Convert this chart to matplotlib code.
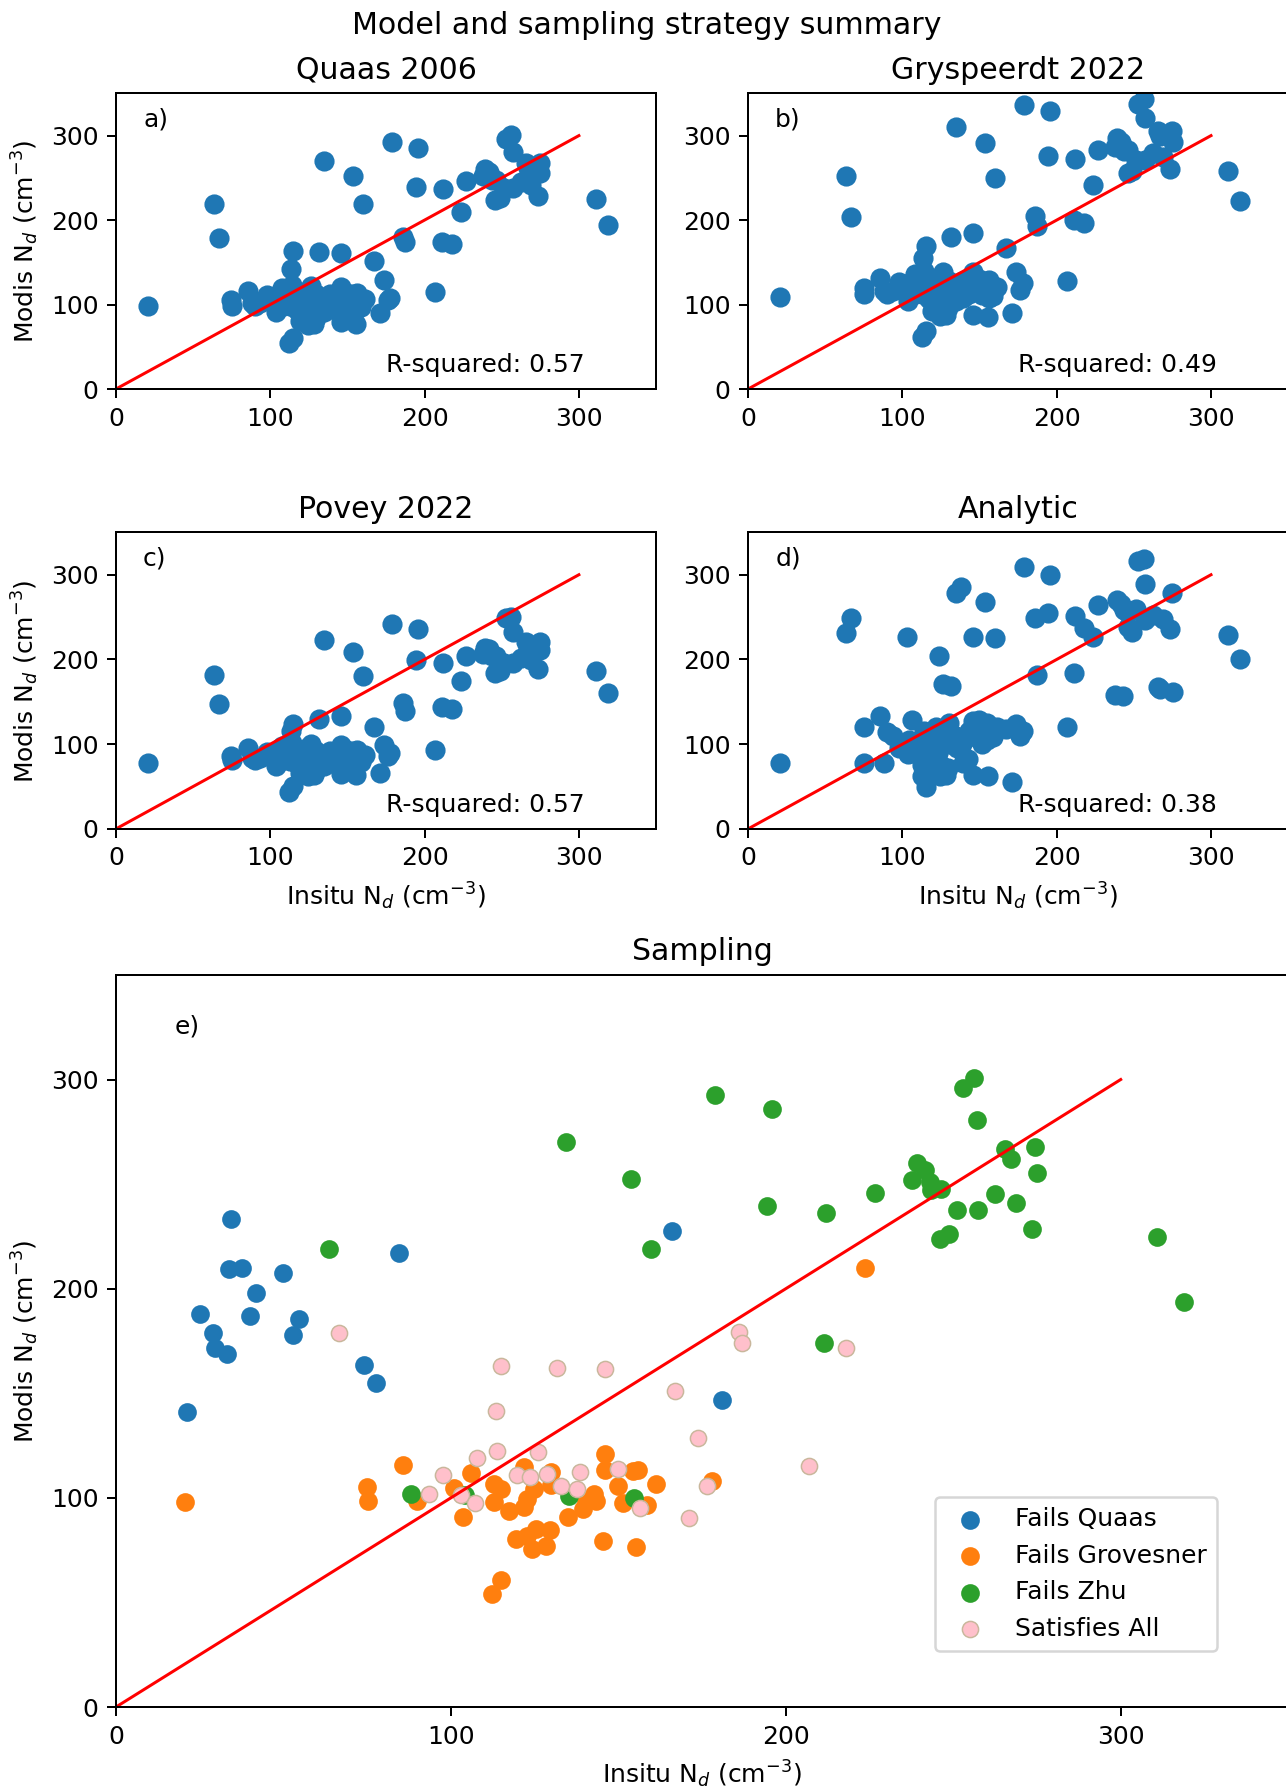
import matplotlib
matplotlib.use("Agg")
import matplotlib.pyplot as plt

# in-situ droplet number (cm^-3) for the campaign points
insitu = [
    # fails Grovesner
    20.7, 74.8, 75.3, 85.7, 90.0, 100.8, 103.7, 105.9, 112.4, 112.8, 113.0,
    115.0, 115.0, 117.4, 119.4, 121.9, 121.9, 122.8, 122.8, 124.2, 124.8,
    125.3, 128.4, 129.7, 129.9, 129.9, 135.0, 139.3, 140.2, 142.7, 143.4,
    145.5, 145.9, 145.9, 149.9, 151.4, 154.5, 155.3, 156.0, 158.7, 161.1,
    177.9, 223.5,
    # fails Zhu
    63.7, 88.2, 104.2, 134.5, 135.4, 153.7, 154.7, 159.8, 178.9, 194.4,
    195.9, 211.5, 211.9, 226.7, 237.8, 239.2, 241.7, 243.1, 243.5, 245.9,
    246.3, 248.7, 251.2, 252.9, 256.3, 257.1, 257.5, 262.6, 265.4, 267.2,
    268.7, 273.6, 274.5, 275.1, 310.9, 318.8,
    # satisfies all
    66.6, 93.6, 97.7, 103.1, 107.1, 107.9, 113.4, 113.9, 115.0, 119.6,
    123.6, 126.1, 128.8, 131.7, 132.8, 137.7, 138.5, 145.9, 149.9, 156.4,
    167.0, 171.2, 173.9, 176.4, 186.0, 187.0, 206.8, 218.0,
]

modis_quaas = [
    98.2, 105.1, 98.4, 115.9, 98.7, 104.6, 90.8, 111.9, 54.1, 106.7, 97.9,
    104.0, 60.8, 93.9, 80.4, 114.6, 95.5, 99.5, 81.7, 75.6, 104.3,
    85.2, 76.9, 84.4, 112.3, 105.9, 90.8, 94.7, 98.7, 101.9, 98.7,
    79.3, 121.0, 113.4, 105.6, 97.6, 112.7, 76.4, 113.5, 96.8, 106.4,
    108.0, 210.0,
    218.8, 101.9, 101.4, 269.9, 100.8, 252.4, 99.8, 219.0, 292.5, 239.4,
    285.8, 174.0, 236.4, 245.9, 251.8, 260.1, 256.9, 251.0, 247.4, 223.9,
    247.8, 226.0, 237.8, 296.0, 300.5, 280.5, 237.8, 245.5, 267.0, 262.2,
    241.1, 228.4, 267.5, 255.5, 224.7, 193.8,
    179.0, 101.9, 111.0, 101.4, 97.6, 119.0, 141.7, 122.6, 162.9, 110.7,
    109.9, 121.8, 111.5, 162.1, 105.6, 104.0, 112.3, 161.6, 113.9, 95.1,
    151.3, 90.3, 128.5, 105.6, 179.5, 174.0, 115.1, 171.7,
]

modis_gryspeerdt = [
    109, 120, 112, 132, 113, 119, 104, 128, 62, 122, 112,
    119, 69, 107, 92, 131, 109, 113, 93, 86, 119,
    97, 88, 96, 128, 121, 104, 108, 113, 116, 113,
    88, 138, 129, 120, 111, 128, 85, 129, 110, 121,
    125, 241,
    252, 116, 116, 310, 115, 291, 114, 250, 336, 276,
    329, 200, 272, 283, 287, 297, 293, 286, 282, 256,
    283, 258, 271, 338, 343, 321, 271, 280, 305, 299,
    275, 261, 305, 292, 258, 223,
    204, 116, 127, 116, 111, 136, 155, 140, 169, 126,
    125, 139, 127, 180, 120, 119, 128, 185, 130, 108,
    167, 90, 138, 117, 205, 193, 128, 197,
]

modis_povey = [
    78, 86, 81, 95, 81, 86, 74, 92, 44, 87, 80,
    85, 50, 77, 66, 94, 78, 82, 67, 62, 86,
    70, 63, 69, 92, 87, 74, 78, 81, 84, 81,
    65, 99, 93, 87, 80, 92, 63, 93, 79, 87,
    90, 174,
    182, 84, 83, 223, 83, 209, 82, 180, 242, 199,
    236, 144, 196, 204, 207, 214, 212, 207, 204, 184,
    204, 186, 196, 249, 250, 232, 196, 202, 220, 216,
    199, 189, 220, 211, 186, 160,
    147, 84, 91, 83, 80, 98, 116, 101, 124, 91,
    90, 100, 91, 130, 87, 85, 92, 133, 93, 78,
    120, 66, 99, 86, 148, 139, 93, 142,
]

modis_analytic = [
    78, 120, 78, 133, 114, 95, 88, 128, 62, 75, 85,
    100, 49, 110, 85, 120, 95, 90, 70, 62, 108,
    75, 63, 72, 125, 100, 110, 78, 105, 82, 115,
    63, 127, 110, 120, 100, 125, 62, 118, 108, 120,
    115, 226,
    231, 78, 105, 279, 95, 268, 105, 225, 309, 255,
    300, 184, 251, 264, 158, 270, 266, 157, 258, 238,
    255, 232, 259, 316, 319, 289, 246, 252, 168, 165,
    248, 236, 278, 162, 229, 201,
    249, 110, 95, 227, 90, 100, 105, 115, 95, 115,
    204, 171, 118, 169, 105, 285, 100, 227, 128, 120,
    118, 55, 124, 110, 249, 182, 120, 237,
]

flag = ["Fails Grovesner"] * 43 + ["Fails Zhu"] * 36 + ["Satisfies All"] * 28

# points rejected by the Quaas criterion (only shown in the sampling panel)
quaas_fail_insitu = [21.2, 25.2, 29.0, 29.5, 33.1, 33.6, 34.4, 37.7, 40.1,
                     41.8, 50.0, 52.9, 54.7, 74.0, 77.6, 84.5, 166.1, 181.0]
quaas_fail_modis = [140.9, 187.8, 179.0, 171.7, 168.8, 209.3, 233.5, 210.1, 187.1,
                    197.9, 207.4, 177.9, 185.5, 163.7, 154.8, 216.9, 227.7, 146.8]

r_squared = {"Quaas 2006": 0.57, "Gryspeerdt 2022": 0.49,
             "Povey 2022": 0.57, "Analytic": 0.38}

ylab = "Modis N$_d$ (cm$^{-3}$)"
xlab = "Insitu N$_d$ (cm$^{-3}$)"

fig = plt.figure(figsize=(7.145, 9.934), dpi=180)
fig.suptitle("Model and sampling strategy summary", x=0.503, y=0.986, va="center")

ax_a = fig.add_axes([0.0902, 0.7824, 0.4199, 0.1653])
ax_b = fig.add_axes([0.5817, 0.7824, 0.4199, 0.1653])
ax_c = fig.add_axes([0.0902, 0.5364, 0.4199, 0.1658])
ax_d = fig.add_axes([0.5817, 0.5364, 0.4199, 0.1658])
ax_e = fig.add_axes([0.0902, 0.0453, 0.9114, 0.4094])

# (axes, model, values, tag, left column, bottom row)
panels = [
    (ax_a, "Quaas 2006", modis_quaas, "a)", True, False),
    (ax_b, "Gryspeerdt 2022", modis_gryspeerdt, "b)", False, False),
    (ax_c, "Povey 2022", modis_povey, "c)", True, True),
    (ax_d, "Analytic", modis_analytic, "d)", False, True),
]

for ax, name, modis, tag, left, bottom in panels:
    ax.scatter(insitu, modis, s=50, color="tab:blue")
    ax.plot([0, 300], [0, 300], color="red", lw=1.2)
    ax.set_xlim(0, 350)
    ax.set_ylim(0, 350)
    ax.set_xticks([0, 100, 200, 300])
    ax.set_yticks([0, 100, 200, 300])
    ax.set_title(name)
    if left:
        ax.set_ylabel(ylab)
    if bottom:
        ax.set_xlabel(xlab)
    ax.text(0.05, 0.89, tag, transform=ax.transAxes)
    ax.text(0.5, 0.058, "R-squared: %.2f" % r_squared[name], transform=ax.transAxes)

# sampling panel, coloured by which criterion each point fails
ax_e.scatter(quaas_fail_insitu, quaas_fail_modis, s=42, color="tab:blue", label="Fails Quaas")
styles = {
    "Fails Grovesner": dict(color="tab:orange"),
    "Fails Zhu": dict(color="tab:green"),
    "Satisfies All": dict(color="pink", edgecolors="#c9b79c", linewidths=0.6),
}
for name, kw in styles.items():
    xs = [x for x, f in zip(insitu, flag) if f == name]
    ys = [y for y, f in zip(modis_quaas, flag) if f == name]
    ax_e.scatter(xs, ys, s=42, label=name, **kw)
ax_e.plot([0, 300], [0, 300], color="red", lw=1.2)
ax_e.set_xlim(0, 350)
ax_e.set_ylim(0, 350)
ax_e.set_xticks([0, 100, 200, 300])
ax_e.set_yticks([0, 100, 200, 300])
ax_e.set_title("Sampling")
ax_e.set_xlabel(xlab)
ax_e.set_ylabel(ylab)
ax_e.text(0.05, 0.92, "e)", transform=ax_e.transAxes)
ax_e.legend(loc="lower right", bbox_to_anchor=(0.939, 0.077), borderaxespad=0)

fig.savefig("out.png", dpi=180)
